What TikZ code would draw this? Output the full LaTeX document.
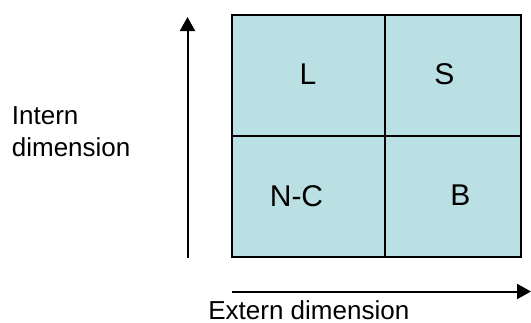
\documentclass[tikz,border=0pt]{standalone}
\usepackage{fontspec}
\setmainfont{Liberation Sans}
\usetikzlibrary{arrows.meta}
\definecolor{cellfill}{RGB}{187,224,227}
\tikzset{
  cell/.style={draw=black, line width=1pt, fill=cellfill},
  celltext/.style={anchor=base, inner sep=0pt, font=\fontsize{15}{18}\selectfont},
  axistext/.style={anchor=base west, inner sep=0pt, font=\fontsize{13}{15.6}\selectfont},
  axis/.style={line width=1pt, -{Triangle[length=7pt,width=7.5pt]}}
}
\begin{document}
\begin{tikzpicture}[x=0.5pt,y=-0.5pt]
  \useasboundingbox (0,0) rectangle (531,322);
  % four quadrants
  \draw[cell] (232,15) rectangle (385,135.5);
  \draw[cell] (385,15) rectangle (521,135.5);
  \draw[cell] (232,135.5) rectangle (385,257);
  \draw[cell] (385,135.5) rectangle (521,257);
  % quadrant labels
  \node[celltext] (l)  at (308,84)   {L};
  \node[celltext] (s)  at (444.5,84) {S};
  \node[celltext] (nc) at (296.5,206) {N-C};
  \node[celltext] (b)  at (460.5,205) {B};
  % axes
  \coordinate (vbot) at (187.5,258);
  \coordinate (vtop) at (187.5,17);
  \coordinate (hleft) at (232,291.5);
  \coordinate (hright) at (531,291.5);
  \draw[axis] (vbot) -- (vtop);
  \draw[axis] (hleft) -- (hright);
  % axis captions
  \node[axistext] (int1) at (11.5,124.3) {Intern};
  \node[axistext] (int2) at (11.5,156) {dimension};
  \node[axistext] (ext) at (208,319.3) {Extern dimension};
\end{tikzpicture}
\end{document}
